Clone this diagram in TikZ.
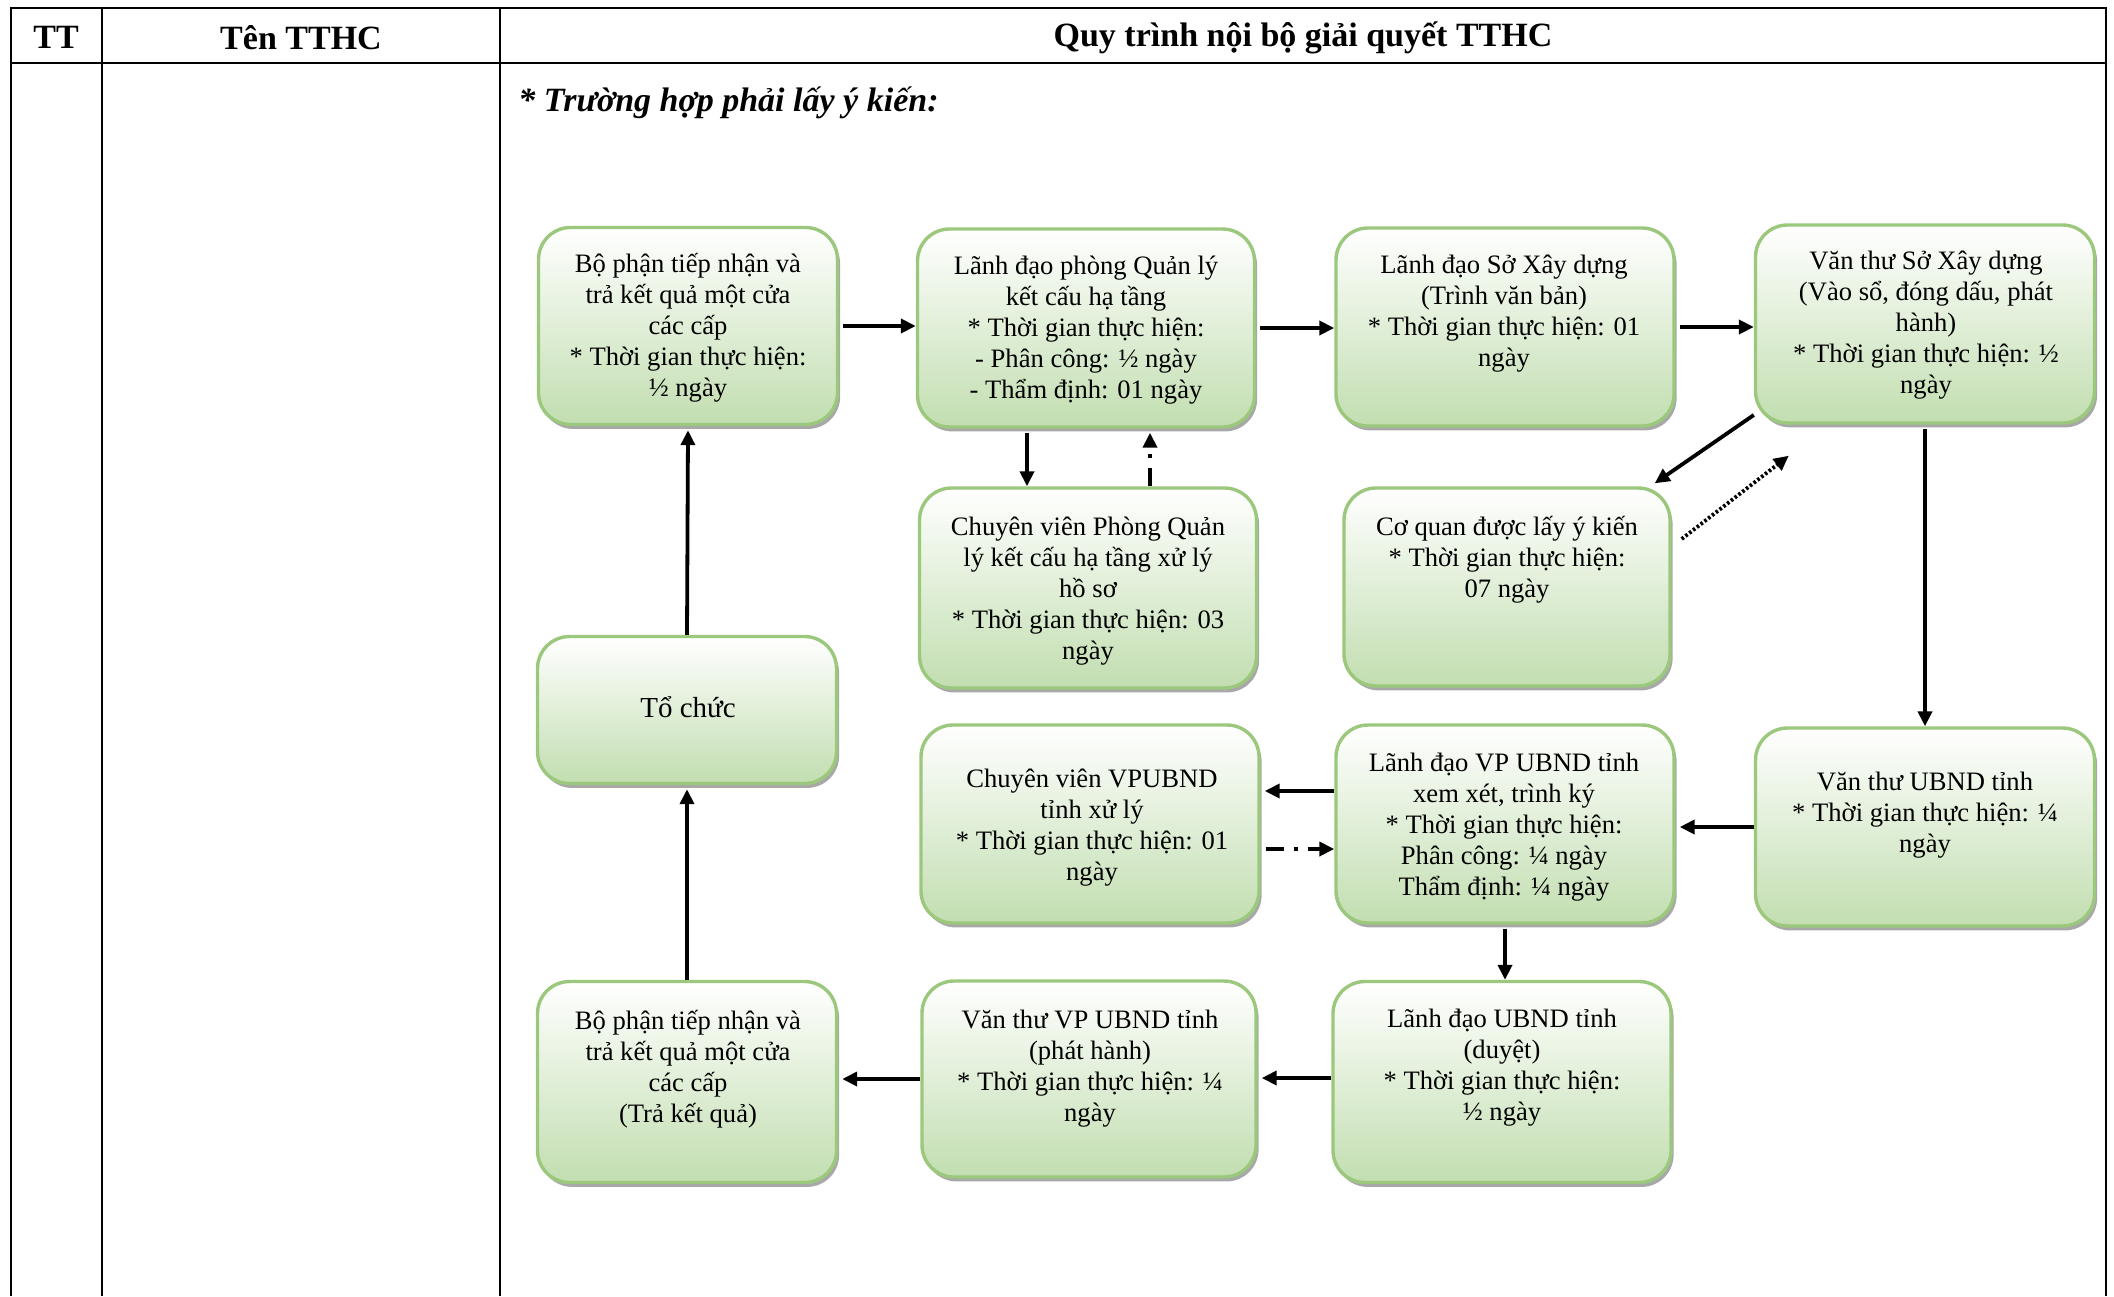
\documentclass[tikz,border=0pt]{standalone}
\usepackage{fontspec}
\setmainfont{Liberation Serif}
\usetikzlibrary{arrows.meta,calc,shadows}
\definecolor{boxline}{RGB}{155,200,125}
\definecolor{boxfill}{RGB}{194,222,176}
\begin{document}
\begin{tikzpicture}[x=0.5pt,y=-0.5pt,
  box/.style={draw=boxline, line width=1.7pt, rounded corners=16pt,
    top color=white, bottom color=boxfill, inner sep=0pt,
    drop shadow={shadow xshift=1.3pt, shadow yshift=-2.2pt, fill=black!38, opacity=0.9}},
  txt/.style={align=center, inner sep=0pt, font=\fontsize{13.3}{15.5}\selectfont},
  arr/.style={line width=1.9pt, -{Triangle[length=7.5pt,width=7pt]}},
  dd/.style={arr, dash pattern=on 9pt off 5pt on 2pt off 5pt},
  dotl/.style={arr, dash pattern=on 1.3pt off 1.1pt},
  tbl/.style={line width=1.4pt},
  hdr/.style={font=\bfseries\fontsize{17}{20}\selectfont, inner sep=0pt}]
\useasboundingbox (0,0) rectangle (2114,1296);
% table
\draw[tbl] (11,1296) -- (11,8) -- (2106,8) -- (2106,1296);
\draw[tbl] (11,63) -- (2106,63);
\draw[tbl] (102,8) -- (102,1296);
\draw[tbl] (500,8) -- (500,1296);
\node[hdr] (h1) at (56,37.5) {TT};
\node[hdr] (h2) at (301,37.5) {Tên TTHC};
\node[hdr] (h3) at (1303,37.5) {Quy trình nội bộ giải quyết TTHC};
\node[anchor=west, inner sep=0pt, font=\bfseries\itshape\fontsize{17}{20}\selectfont] (sub) at (518,103) {* Trường hợp phải lấy ý kiến:};
% boxes
\node[box, minimum width=149.5pt, minimum height=98.5pt] (b1) at (688,326) {};
\node[box, minimum width=168.5pt, minimum height=99pt] (b2) at (1086,328) {};
\node[box, minimum width=169pt, minimum height=99pt] (b3) at (1505,327) {};
\node[box, minimum width=169.5pt, minimum height=99pt] (b4) at (1925,324) {};
\node[box, minimum width=168.5pt, minimum height=100pt] (b5) at (1088,588) {};
\node[box, minimum width=163pt, minimum height=99pt] (b6) at (1507,587) {};
\node[box, minimum width=149.5pt, minimum height=73.5pt] (b7) at (687,710) {};
\node[box, minimum width=169pt, minimum height=99pt] (b8) at (1090,824) {};
\node[box, minimum width=169pt, minimum height=99pt] (b9) at (1505,824) {};
\node[box, minimum width=169.5pt, minimum height=99pt] (b10) at (1925,827) {};
\node[box, minimum width=149.5pt, minimum height=100.5pt] (b11) at (687,1082) {};
\node[box, minimum width=167pt, minimum height=98pt] (b12) at (1089,1079) {};
\node[box, minimum width=169pt, minimum height=100.5pt] (b13) at (1502,1082) {};
% texts
\node[txt] (t1) at (688,328) {Bộ phận tiếp nhận và\\ trả kết quả một cửa\\ các cấp\\ {*} Thời gian thực hiện:\\ ½ ngày};
\node[txt] (t2) at (1086,330) {Lãnh đạo phòng Quản lý\\ kết cấu hạ tầng\\ {*} Thời gian thực hiện:\\ - Phân công: ½ ngày\\ - Thẩm định: 01 ngày};
\node[txt] (t3) at (1504,314) {Lãnh đạo Sở Xây dựng\\ (Trình văn bản)\\ {*} Thời gian thực hiện: 01\\ ngày};
\node[txt] (t4) at (1926,325) {Văn thư Sở Xây dựng\\ (Vào sổ, đóng dấu, phát\\ hành)\\ {*} Thời gian thực hiện: ½\\ ngày};
\node[txt] (t5) at (1088,591) {Chuyên viên Phòng Quản\\ lý kết cấu hạ tầng xử lý\\ hồ sơ\\ {*} Thời gian thực hiện: 03\\ ngày};
\node[txt] (t6) at (1507,560) {Cơ quan được lấy ý kiến\\ {*} Thời gian thực hiện:\\ 07 ngày};
\node[txt, font=\fontsize{14.5}{17}\selectfont] (t7) at (688,707) {Tổ chức};
\node[txt] (t8) at (1092,828) {Chuyên viên VPUBND\\ tỉnh xử lý\\ {*} Thời gian thực hiện: 01\\ ngày};
\node[txt] (t9) at (1504,827) {Lãnh đạo VP UBND tỉnh\\ xem xét, trình ký\\ {*} Thời gian thực hiện:\\ Phân công: ¼ ngày\\ Thẩm định: ¼ ngày};
\node[txt] (t10) at (1925,815) {Văn thư UBND tỉnh\\ {*} Thời gian thực hiện: ¼\\ ngày};
\node[txt] (t11) at (688,1069) {Bộ phận tiếp nhận và\\ trả kết quả một cửa\\ các cấp\\ (Trả kết quả)};
\node[txt] (t12) at (1090,1069) {Văn thư VP UBND tỉnh\\ (phát hành)\\ {*} Thời gian thực hiện: ¼\\ ngày};
\node[txt] (t13) at (1502,1068) {Lãnh đạo UBND tỉnh\\ (duyệt)\\ {*} Thời gian thực hiện:\\ ½ ngày};
% connectors
\draw[arr] ($(b1.east)+(4,0)$) -- (b1.east -| b2.west);
\draw[arr] ($(b2.east)+(4,0)$) -- (b2.east -| b3.west);
\draw[arr] ($(b3.east)+(4,0)$) -- (b3.east -| b4.west);
\coordinate (p25) at ($(b2.south)+(-59,4)$);
\draw[arr] (p25) -- (p25 |- b5.north);
\coordinate (p52) at ($(b5.north)+(62,0)$);
\draw[dd] (p52) -- ($(p52 |- b2.south)+(0,4)$);
\draw[arr] ($(b4.west)+(0,91)$) -- ($(b6.north east)+(-17,-3)$);
\draw[dotl] ($(b6.east)+(10,-48)$) -- ($(b4.south west)+(35,31)$);
\draw[arr] ($(b4.south)+(0,4)$) -- (b10.north);
\draw[arr] (b10.west) -- ($(b10.west -| b9.east)+(4,0)$);
\coordinate (p98) at ($(b9.west)+(0,-33)$);
\draw[arr] (p98) -- ($(p98 -| b8.east)+(4,0)$);
\coordinate (p89) at ($(b8.east)+(5,25)$);
\draw[dd] (p89) -- (p89 -| b9.west);
\draw[arr] ($(b9.south)+(0,4)$) -- (b9.south |- b13.north);
\draw[arr] ($(b13.west)+(0,-4)$) -- ($(b13.west -| b12.east)+(4,-4)$);
\draw[arr] ($(b12.west)+(0,0)$) -- ($(b12.west -| b11.east)+(4,0)$);
\draw[arr] (b11.north) -- ($(b7.south)+(0,4)$);
\draw[arr] (b7.north) -- ($(b1.south)+(0,4)$);
\end{tikzpicture}
\end{document}
